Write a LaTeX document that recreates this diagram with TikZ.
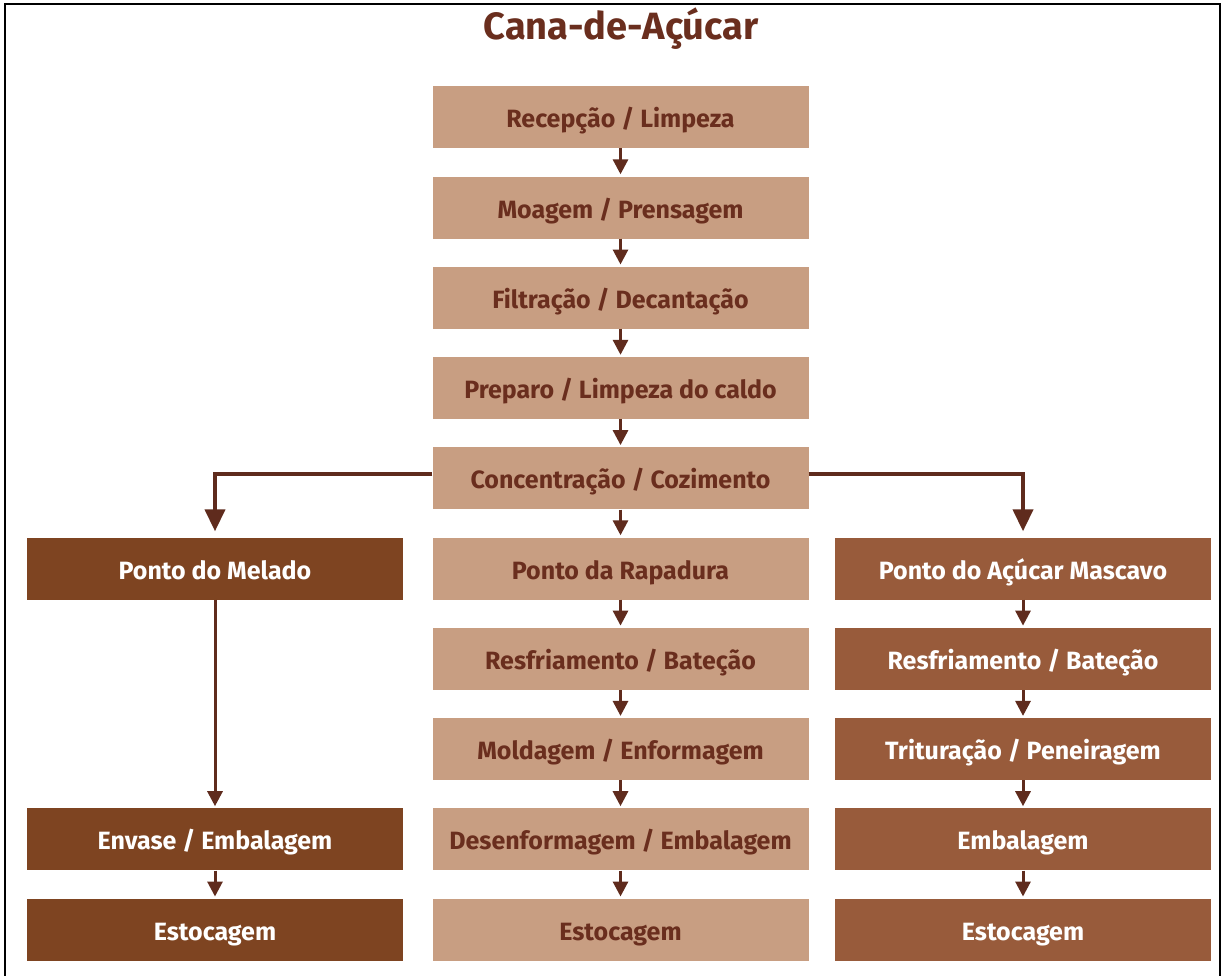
\documentclass[tikz,border=0pt]{standalone}
\usepackage{fontspec}
\setmainfont{Fira Sans}
\usetikzlibrary{arrows.meta}
\definecolor{tanbox}{HTML}{C89E82}
\definecolor{darkbox}{HTML}{7E4421}
\definecolor{midbox}{HTML}{985B3B}
\definecolor{arrowc}{HTML}{5F2B1D}
\definecolor{textc}{HTML}{6A2E1E}
\begin{document}
\begin{tikzpicture}[x=1pt,y=-1pt,
  boxbase/.style={rectangle, inner sep=0pt, minimum width=376pt, minimum height=62pt,
    text height=23pt, text depth=2pt,
    font=\fontsize{25}{29}\selectfont\bfseries},
  cbox/.style={boxbase, fill=tanbox, text=textc},
  lbox/.style={boxbase, fill=darkbox, text=white},
  rbox/.style={boxbase, fill=midbox, text=white},
  flow/.style={draw=arrowc, line width=3pt, -{Triangle[width=15pt,length=15pt]}, shorten >=2pt},
  branch/.style={draw=arrowc, line width=4pt, -{Triangle[width=20pt,length=22pt]}, shorten >=6pt},
]
\useasboundingbox (0,0) rectangle (1222,975);
\fill[white] (0,0) rectangle (1222,975);
\draw[black, line width=2.5pt] (5,980) -- (5,4) -- (1220,4) -- (1220,980);

\node[font=\fontsize{38}{42}\selectfont\bfseries, text=textc, anchor=base] (title) at (621,39) {Cana-de-Açúcar};

% center column
\node[cbox] (c1) at (620.5,117) {Recepção / Limpeza};
\node[cbox] (c2) at (620.5,207.5) {Moagem / Prensagem};
\node[cbox] (c3) at (620.5,297.7) {Filtração / Decantação};
\node[cbox] (c4) at (620.5,388) {Preparo / Limpeza do caldo};
\node[cbox] (c5) at (620.5,478.3) {Concentração / Cozimento};
\node[cbox] (c6) at (620.5,568.5) {Ponto da Rapadura};
\node[cbox] (c7) at (620.5,658.8) {Resfriamento / Bateção};
\node[cbox] (c8) at (620.5,749.1) {Moldagem / Enformagem};
\node[cbox] (c9) at (620.5,839.4) {Desenformagem / Embalagem};
\node[cbox] (c10) at (620.5,929.7) {Estocagem};

% left column
\node[lbox] (l1) at (215,568.5) {Ponto do Melado};
\node[lbox] (l2) at (215,839.4) {Envase / Embalagem};
\node[lbox] (l3) at (215,929.7) {Estocagem};

% right column
\node[rbox] (r1) at (1023,568.5) {Ponto do Açúcar Mascavo};
\node[rbox] (r2) at (1023,658.8) {Resfriamento / Bateção};
\node[rbox] (r3) at (1023,749.1) {Trituração / Peneiragem};
\node[rbox] (r4) at (1023,839.4) {Embalagem};
\node[rbox] (r5) at (1023,929.7) {Estocagem};

% arrows
\foreach \a/\b in {c1/c2,c2/c3,c3/c4,c4/c5,c5/c6,c6/c7,c7/c8,c8/c9,c9/c10,
                   l2/l3, r1/r2,r2/r3,r3/r4,r4/r5}
  \draw[flow] (\a.south) -- (\b.north);
\draw[flow] (l1.south) -- (l2.north);

\draw[branch] ([yshift=4pt]c5.west) -| (l1.north);
\draw[branch] ([yshift=4pt]c5.east) -| (r1.north);
\end{tikzpicture}
\end{document}
